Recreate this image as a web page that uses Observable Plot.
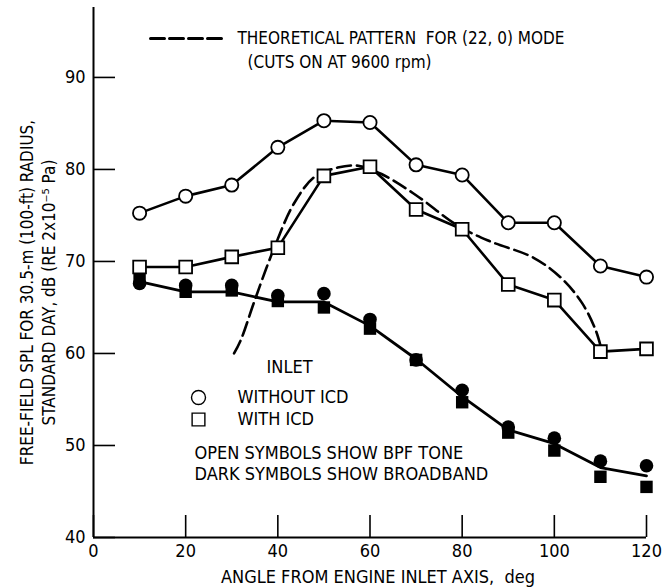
<!DOCTYPE html>
<html><head><meta charset="utf-8">
<script src="https://cdn.jsdelivr.net/npm/d3@7"></script>
<script src="https://cdn.jsdelivr.net/npm/@observablehq/plot@0.6"></script>
<style>body{margin:0;background:#fff}</style>
</head><body><div id="chart"></div>
<script>
// Angle from engine inlet axis, deg
const angles = [10, 20, 30, 40, 50, 60, 70, 80, 90, 100, 110, 120];
// Open symbols: BPF tone
const toneWithoutICD = [75.25, 77.1, 78.3, 82.4, 85.3, 85.1, 80.5, 79.4, 74.2, 74.2, 69.5, 68.3];
const toneWithICD    = [69.4, 69.4, 70.5, 71.5, 79.3, 80.3, 75.65, 73.5, 67.5, 65.8, 60.2, 60.5];
// Dark symbols: broadband
const broadWithoutICD = [67.6, 67.4, 67.4, 66.3, 66.5, 63.7, 59.3, 56.0, 52.0, 50.8, 48.3, 47.8];
const broadWithICD    = [68.2, 66.7, 66.85, 65.7, 65.0, 62.7, 59.3, 54.7, 51.4, 49.45, 46.6, 45.5];
// Faired broadband curve
const broadFairing    = [67.8, 66.7, 66.7, 65.6, 65.6, 63.0, 59.4, 55.3, 51.7, 50.2, 47.6, 46.7];
// Theoretical pattern for (22,0) mode
const theoAngles = [30.5, 32, 35, 39, 43.5, 48, 53, 57.5, 62.5, 70, 79, 86, 95.5, 101.5, 106, 109, 110.3];
const theoValues = [60.0, 61.5, 65.8, 71.2, 76.3, 79.2, 80.2, 80.4, 79.5, 77.2, 73.9, 72.2, 70.4, 68.2, 65.5, 62.5, 60.3];

const xTicks = [0, 20, 40, 60, 80, 100, 120];
const yTicks = [40, 50, 60, 70, 80, 90];
const xDomain = [0, 120];
const yDomain = [40, 97.6];

const yLabel = "FREE-FIELD SPL FOR 30.5-m (100-ft) RADIUS,\nSTANDARD DAY, dB (RE 2x10\u207B\u2075 Pa)";
const xLabel = "ANGLE FROM ENGINE INLET AXIS,  deg";
const theoLegend = ["THEORETICAL PATTERN  FOR (22, 0) MODE", "(CUTS ON AT 9600 rpm)"];
const inletTitle = "INLET";
const symbolLabels = ["WITHOUT ICD", "WITH ICD"];
const notes = ["OPEN SYMBOLS SHOW BPF TONE", "DARK SYMBOLS SHOW BROADBAND"];

const rows = (vals) => angles.map((a, i) => ({angle: a, value: vals[i]}));
const theo = theoAngles.map((a, i) => ({angle: a, value: theoValues[i]}));

const FONT = "'Liberation Sans Narrow', 'DejaVu Sans Condensed', 'Arial Narrow', sans-serif";
const lineShape = {draw(ctx, l) { ctx.moveTo(0, 0); ctx.lineTo(0, -l); }};
const one = [0];

const chart = Plot.plot({
  width: 663,
  height: 588,
  marginLeft: 93,
  marginRight: 17,
  marginTop: 7,
  marginBottom: 51,
  style: {fontFamily: FONT, fontSize: "18px", color: "#000", background: "#fff"},
  x: {domain: xDomain},
  y: {domain: yDomain},
  marks: [
    Plot.axisX({ticks: xTicks, tickSize: -22, tickPadding: 29, tickFormat: d => String(d), label: null, strokeWidth: 1.6, fontSize: 18}),
    Plot.axisY({ticks: yTicks, tickSize: -22, tickPadding: 30, tickFormat: d => String(d), label: null, strokeWidth: 1.6, fontSize: 18}),
    Plot.ruleY([yDomain[0]], {stroke: "#000", strokeWidth: 2}),
    Plot.ruleX([xDomain[0]], {stroke: "#000", strokeWidth: 2}),
    // theoretical dashed curve
    Plot.line(theo, {x: "angle", y: "value", curve: "catmull-rom", stroke: "#000", strokeWidth: 2.6, strokeDasharray: "14,6"}),
    // lines
    Plot.line(rows(toneWithoutICD), {x: "angle", y: "value", stroke: "#000", strokeWidth: 2.6}),
    Plot.line(rows(toneWithICD), {x: "angle", y: "value", stroke: "#000", strokeWidth: 2.6}),
    Plot.line(rows(broadFairing), {x: "angle", y: "value", stroke: "#000", strokeWidth: 2.8}),
    // dark symbols
    Plot.dot(rows(broadWithoutICD), {x: "angle", y: "value", symbol: "circle", r: 6.8, fill: "#000", stroke: "none"}),
    Plot.dot(rows(broadWithICD), {x: "angle", y: "value", symbol: "square", r: 7.0, fill: "#000", stroke: "none"}),
    // open symbols
    Plot.dot(rows(toneWithoutICD), {x: "angle", y: "value", symbol: "circle", r: 6.6, fill: "#fff", stroke: "#000", strokeWidth: 1.8}),
    Plot.dot(rows(toneWithICD), {x: "angle", y: "value", symbol: "square", r: 7.2, fill: "#fff", stroke: "#000", strokeWidth: 1.8}),
    // theoretical legend
    Plot.vector(one, {frameAnchor: "top-left", dx: 57, dy: 31, length: 72, rotate: 90, anchor: "start", shape: lineShape, stroke: "#000", strokeWidth: 3, strokeDasharray: "14,5"}),
    Plot.text([theoLegend[0]], {frameAnchor: "top-left", dx: 144, dy: 31, textAnchor: "start", lineAnchor: "middle", fontSize: 17, fill: "#000"}),
    Plot.text([theoLegend[1]], {frameAnchor: "top-left", dx: 154, dy: 55, textAnchor: "start", lineAnchor: "middle", fontSize: 17, fill: "#000"}),
    // inlet legend
    Plot.text([inletTitle], {frameAnchor: "top-left", dx: 173, dy: 360, textAnchor: "start", lineAnchor: "middle", fontSize: 18, fill: "#000"}),
    Plot.dot(one, {frameAnchor: "top-left", dx: 105, dy: 390, symbol: "circle", r: 7, fill: "#fff", stroke: "#000", strokeWidth: 1.4}),
    Plot.dot(one, {frameAnchor: "top-left", dx: 105, dy: 412, symbol: "square", r: 7.2, fill: "#fff", stroke: "#000", strokeWidth: 1.4}),
    Plot.text([symbolLabels[0]], {frameAnchor: "top-left", dx: 144, dy: 390, textAnchor: "start", lineAnchor: "middle", fontSize: 18, fill: "#000"}),
    Plot.text([symbolLabels[1]], {frameAnchor: "top-left", dx: 144, dy: 412, textAnchor: "start", lineAnchor: "middle", fontSize: 18, fill: "#000"}),
    Plot.text([notes[0]], {frameAnchor: "top-left", dx: 101, dy: 446, textAnchor: "start", lineAnchor: "middle", fontSize: 18, fill: "#000"}),
    Plot.text([notes[1]], {frameAnchor: "top-left", dx: 101, dy: 467, textAnchor: "start", lineAnchor: "middle", fontSize: 18, fill: "#000"}),
    // axis titles
    Plot.text([xLabel], {frameAnchor: "bottom", dx: 8, dy: 40, textAnchor: "middle", lineAnchor: "middle", fontSize: 18, fill: "#000"}),
    Plot.text([yLabel], {frameAnchor: "left", dx: -57, dy: 20, rotate: -90, textAnchor: "middle", lineAnchor: "middle", lineHeight: 1.3, fontSize: 17, fill: "#000"})
  ]
});
document.getElementById("chart").appendChild(chart);
</script>
</body></html>
